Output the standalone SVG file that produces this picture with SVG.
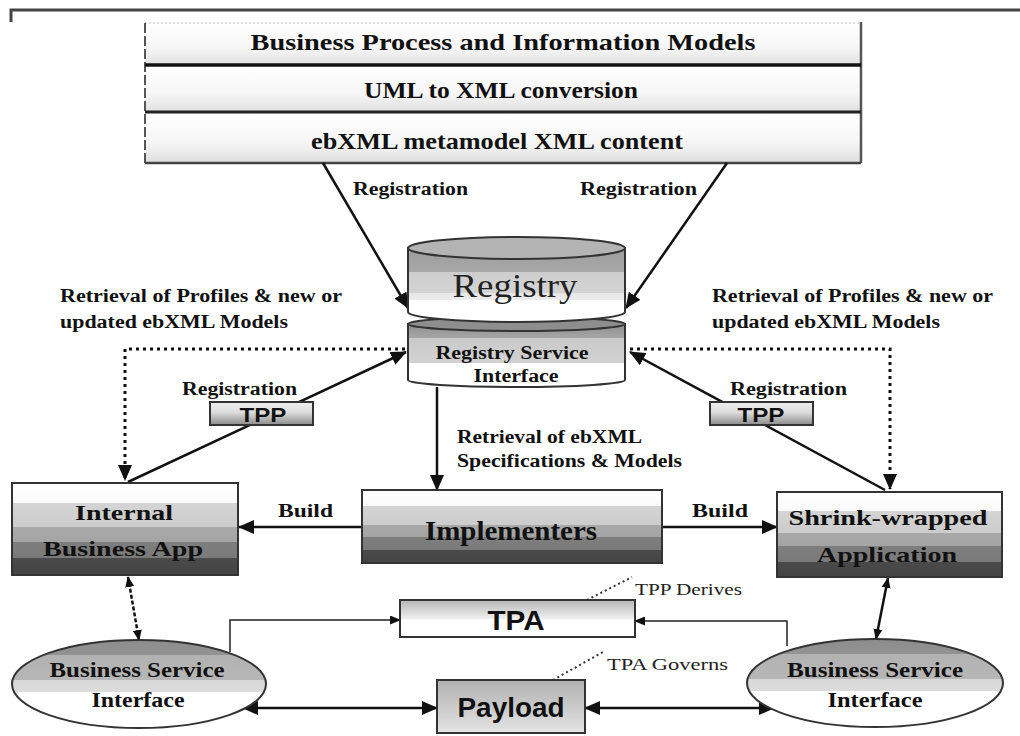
<svg xmlns="http://www.w3.org/2000/svg" width="1020" height="736" viewBox="0 0 1020 736">
<style>
.sb{font-family:"Liberation Serif","Times New Roman",serif;font-weight:bold;fill:#111}
.sr{font-family:"Liberation Serif","Times New Roman",serif;fill:#222}
.ss{font-family:"Liberation Sans",Arial,sans-serif;font-weight:bold;fill:#111}
.box{stroke:#333;stroke-width:2}
.ln{fill:none;stroke:#111;stroke-width:2.5}
.thin{fill:none;stroke:#222;stroke-width:1.5}
.dot{fill:none;stroke:#111;stroke-width:3;stroke-dasharray:3 4}
.dotthin{fill:none;stroke:#333;stroke-width:2;stroke-dasharray:2 3}
</style>
<defs>
<marker id="ah" markerUnits="userSpaceOnUse" markerWidth="16" markerHeight="14" refX="15" refY="7" orient="auto-start-reverse" viewBox="0 0 16 14"><path d="M0,0 L16,7 L0,14 Z" fill="#111"/></marker>
<marker id="as" markerUnits="userSpaceOnUse" markerWidth="11" markerHeight="9" refX="10" refY="4.5" orient="auto-start-reverse" viewBox="0 0 11 9"><path d="M0,0 L11,4.5 L0,9 Z" fill="#111"/></marker>
<linearGradient id="gTop" x1="0" y1="0" x2="0" y2="1"><stop offset="0" stop-color="#ffffff"/><stop offset="0.6" stop-color="#f6f6f6"/><stop offset="1" stop-color="#e0e0e0"/></linearGradient>
<linearGradient id="gApp" x1="0" y1="0" x2="0" y2="1">
<stop offset="0" stop-color="#ffffff"/><stop offset="0.22" stop-color="#fafafa"/>
<stop offset="0.22" stop-color="#d4d4d4"/><stop offset="0.48" stop-color="#cccccc"/>
<stop offset="0.48" stop-color="#a9a9a9"/><stop offset="0.64" stop-color="#a4a4a4"/>
<stop offset="0.64" stop-color="#7e7e7e"/><stop offset="0.82" stop-color="#7a7a7a"/>
<stop offset="0.82" stop-color="#4a4a4a"/><stop offset="1" stop-color="#444444"/></linearGradient>
<linearGradient id="gEll" x1="0" y1="0" x2="0" y2="1">
<stop offset="0" stop-color="#8c8c8c"/><stop offset="0.17" stop-color="#939393"/>
<stop offset="0.17" stop-color="#b2b2b2"/><stop offset="0.45" stop-color="#b6b6b6"/>
<stop offset="0.45" stop-color="#d8d8d8"/><stop offset="0.59" stop-color="#dcdcdc"/>
<stop offset="0.59" stop-color="#ffffff"/><stop offset="1" stop-color="#ffffff"/></linearGradient>
<linearGradient id="gReg" x1="0" y1="0" x2="0" y2="1">
<stop offset="0" stop-color="#9c9c9c"/><stop offset="0.32" stop-color="#a8a8a8"/>
<stop offset="0.32" stop-color="#cdcdcd"/><stop offset="0.61" stop-color="#d4d4d4"/>
<stop offset="0.61" stop-color="#e6e6e6"/><stop offset="0.7" stop-color="#ececec"/>
<stop offset="0.7" stop-color="#ffffff"/><stop offset="1" stop-color="#ffffff"/></linearGradient>
<linearGradient id="gRsi" x1="0" y1="0" x2="0" y2="1">
<stop offset="0" stop-color="#8e8e8e"/><stop offset="0.22" stop-color="#a6a6a6"/>
<stop offset="0.22" stop-color="#c9c9c9"/><stop offset="0.62" stop-color="#d2d2d2"/>
<stop offset="0.62" stop-color="#ffffff"/><stop offset="1" stop-color="#ffffff"/></linearGradient>
<linearGradient id="gTpa" x1="0" y1="0" x2="0" y2="1"><stop offset="0" stop-color="#b4b4b4"/><stop offset="0.5" stop-color="#efefef"/><stop offset="0.55" stop-color="#ffffff"/><stop offset="1" stop-color="#ffffff"/></linearGradient>
<linearGradient id="gPay" x1="0" y1="0" x2="0" y2="1"><stop offset="0" stop-color="#b0b0b0"/><stop offset="1" stop-color="#e4e4e4"/></linearGradient>
<linearGradient id="gTpp" x1="0" y1="0" x2="0" y2="1"><stop offset="0" stop-color="#eeeeee"/><stop offset="0.45" stop-color="#dddddd"/><stop offset="1" stop-color="#8a8a8a"/></linearGradient>
</defs>
<rect width="1020" height="736" fill="#ffffff"/>
<!-- frame line -->
<path d="M11,22 V10 H1020" fill="none" stroke="#444" stroke-width="3"/>

<g id="models">
<rect x="145" y="23" width="716" height="42" fill="url(#gTop)"/>
<rect x="145" y="66" width="716" height="46" fill="url(#gTop)"/>
<rect x="145" y="113" width="716" height="49" fill="url(#gTop)"/>
<line x1="145" y1="23" x2="861" y2="23" stroke="#bbb" stroke-width="1" stroke-dasharray="2 2"/>
<line x1="145" y1="23" x2="145" y2="163" stroke="#555" stroke-width="2" stroke-dasharray="10 3"/>
<line x1="861" y1="22" x2="861" y2="163" stroke="#555" stroke-width="2.5"/>
<line x1="145" y1="65" x2="861" y2="65" stroke="#111" stroke-width="3.5"/>
<line x1="145" y1="112" x2="861" y2="112" stroke="#222" stroke-width="3"/>
<line x1="145" y1="163" x2="861" y2="163" stroke="#444" stroke-width="2.5"/>
<text class="sb" x="503" y="50" font-size="24" text-anchor="middle" textLength="505" lengthAdjust="spacingAndGlyphs">Business Process and Information Models</text>
<text class="sb" x="501" y="98" font-size="24" text-anchor="middle" textLength="274" lengthAdjust="spacingAndGlyphs">UML to XML conversion</text>
<text class="sb" x="497" y="149" font-size="24" text-anchor="middle" textLength="372" lengthAdjust="spacingAndGlyphs">ebXML metamodel XML content</text>
</g>

<g id="connectors">
<line class="ln" x1="323" y1="163" x2="408" y2="308" marker-end="url(#ah)"/>
<line class="ln" x1="727" y1="163" x2="626" y2="308" marker-end="url(#ah)"/>
<path class="dot" d="M405,349 H125 V480" marker-end="url(#ah)"/>
<path class="dot" d="M630,349 H890 V489" marker-end="url(#ah)"/>
<line class="ln" x1="128" y1="482" x2="406" y2="352" marker-end="url(#ah)"/>
<line class="ln" x1="885" y1="490" x2="630" y2="352" marker-end="url(#ah)"/>
<line class="ln" x1="437" y1="387" x2="437" y2="490" marker-end="url(#ah)"/>
<line class="ln" x1="362" y1="527" x2="239" y2="527" marker-end="url(#ah)"/>
<line class="ln" x1="662" y1="527" x2="777" y2="527" marker-end="url(#ah)"/>
<line x1="128" y1="577" x2="139" y2="640" fill="none" stroke="#111" stroke-width="2.5" stroke-dasharray="4 2" marker-start="url(#as)" marker-end="url(#as)"/>
<line class="ln" x1="888" y1="578" x2="876" y2="639" marker-start="url(#as)" marker-end="url(#as)"/>
<path class="thin" d="M230,652 V620 H400" marker-end="url(#as)"/>
<path class="thin" d="M787,646 V621 H635" marker-end="url(#as)"/>
<line class="ln" x1="243" y1="708" x2="437" y2="708" marker-start="url(#ah)" marker-end="url(#ah)"/>
<line class="ln" x1="585" y1="708" x2="774" y2="708" marker-start="url(#ah)" marker-end="url(#ah)"/>
<line class="dotthin" x1="587" y1="600" x2="632" y2="577"/>
<line class="dotthin" x1="553" y1="680" x2="603" y2="652"/>
<text class="sb" x="353" y="195" font-size="18" textLength="115" lengthAdjust="spacingAndGlyphs">Registration</text>
<text class="sb" x="580" y="195" font-size="18" textLength="117" lengthAdjust="spacingAndGlyphs">Registration</text>
<text class="sb" x="60" y="302" font-size="18" textLength="282" lengthAdjust="spacingAndGlyphs">Retrieval of Profiles &amp; new or</text>
<text class="sb" x="60" y="328" font-size="18" textLength="228" lengthAdjust="spacingAndGlyphs">updated ebXML Models</text>
<text class="sb" x="712" y="302" font-size="18" textLength="281" lengthAdjust="spacingAndGlyphs">Retrieval of Profiles &amp; new or</text>
<text class="sb" x="712" y="328" font-size="18" textLength="228" lengthAdjust="spacingAndGlyphs">updated ebXML Models</text>
<text class="sb" x="182" y="395" font-size="18" textLength="115" lengthAdjust="spacingAndGlyphs">Registration</text>
<text class="sb" x="730" y="395" font-size="18" textLength="117" lengthAdjust="spacingAndGlyphs">Registration</text>
<text class="sb" x="457" y="443" font-size="18" textLength="185" lengthAdjust="spacingAndGlyphs">Retrieval of ebXML</text>
<text class="sb" x="457" y="467" font-size="18" textLength="225" lengthAdjust="spacingAndGlyphs">Specifications &amp; Models</text>
<text class="sb" x="278" y="517" font-size="19" textLength="55" lengthAdjust="spacingAndGlyphs">Build</text>
<text class="sb" x="692" y="517" font-size="19" textLength="56" lengthAdjust="spacingAndGlyphs">Build</text>
<text class="sr" x="635" y="595" font-size="16" textLength="107" lengthAdjust="spacingAndGlyphs">TPP Derives</text>
<text class="sr" x="607" y="670" font-size="16" textLength="121" lengthAdjust="spacingAndGlyphs">TPA Governs</text>
</g>

<g id="registry-service-interface">
<path d="M408,324 V380 A108.5,7 0 0 0 625,380 V324 Z" fill="url(#gRsi)" stroke="#333" stroke-width="2"/>
<ellipse cx="516.5" cy="324" rx="108.5" ry="7" fill="#8e8e8e" stroke="#333" stroke-width="2"/>
<text class="sb" x="512" y="359" font-size="18" text-anchor="middle" textLength="153" lengthAdjust="spacingAndGlyphs">Registry Service</text>
<text class="sb" x="516" y="382" font-size="18" text-anchor="middle" textLength="85" lengthAdjust="spacingAndGlyphs">Interface</text>
</g>

<g id="registry">
<path d="M408,248 V312 A108.5,10 0 0 0 625,312 V248 Z" fill="url(#gReg)" stroke="#333" stroke-width="2"/>
<ellipse cx="516.5" cy="248" rx="108.5" ry="11" fill="#b4b4b4" stroke="#333" stroke-width="2"/>
<text class="sr" x="515" y="297" font-size="34" text-anchor="middle" fill="#111" textLength="125" lengthAdjust="spacingAndGlyphs">Registry</text>
</g>

<g id="tpp-left">
<rect class="box" x="210" y="402" width="103" height="23" fill="url(#gTpp)"/>
<text class="ss" x="263" y="422" font-size="20" text-anchor="middle" textLength="47" lengthAdjust="spacingAndGlyphs">TPP</text>
</g>
<g id="tpp-right">
<rect class="box" x="710" y="402" width="103" height="23" fill="url(#gTpp)"/>
<text class="ss" x="761" y="422" font-size="20" text-anchor="middle" textLength="47" lengthAdjust="spacingAndGlyphs">TPP</text>
</g>

<g id="internal-business-app">
<rect class="box" x="12" y="483" width="226" height="92" fill="url(#gApp)"/>
<text class="sb" x="124" y="520" font-size="21" text-anchor="middle" textLength="98" lengthAdjust="spacingAndGlyphs">Internal</text>
<text class="sb" x="123" y="556" font-size="21" text-anchor="middle" textLength="160" lengthAdjust="spacingAndGlyphs">Business App</text>
</g>

<g id="implementers">
<rect class="box" x="362" y="490" width="300" height="73" fill="url(#gApp)"/>
<text class="sb" x="511" y="540" font-size="28" text-anchor="middle" textLength="172" lengthAdjust="spacingAndGlyphs">Implementers</text>
</g>

<g id="shrink-wrapped-application">
<rect class="box" x="777" y="492" width="225" height="85" fill="url(#gApp)"/>
<text class="sb" x="888" y="525" font-size="21" text-anchor="middle" textLength="199" lengthAdjust="spacingAndGlyphs">Shrink-wrapped</text>
<text class="sb" x="887" y="562" font-size="21" text-anchor="middle" textLength="140" lengthAdjust="spacingAndGlyphs">Application</text>
</g>

<g id="tpa">
<rect class="box" x="400" y="600" width="235" height="37" fill="url(#gTpa)"/>
<text class="ss" x="516" y="630" font-size="28" text-anchor="middle" textLength="57" lengthAdjust="spacingAndGlyphs">TPA</text>
</g>

<g id="payload">
<rect class="box" x="437" y="680" width="148" height="53" fill="url(#gPay)"/>
<text class="ss" x="511" y="717" font-size="27" text-anchor="middle" textLength="107" lengthAdjust="spacingAndGlyphs">Payload</text>
</g>

<g id="bsi-left">
<ellipse cx="139" cy="684" rx="127" ry="44" fill="url(#gEll)" stroke="#333" stroke-width="2"/>
<text class="sb" x="137" y="677" font-size="20" text-anchor="middle" textLength="175" lengthAdjust="spacingAndGlyphs">Business Service</text>
<text class="sb" x="138" y="707" font-size="20" text-anchor="middle" textLength="93" lengthAdjust="spacingAndGlyphs">Interface</text>
</g>

<g id="bsi-right">
<ellipse cx="875" cy="683" rx="128" ry="44" fill="url(#gEll)" stroke="#333" stroke-width="2"/>
<text class="sb" x="875" y="677" font-size="20" text-anchor="middle" textLength="176" lengthAdjust="spacingAndGlyphs">Business Service</text>
<text class="sb" x="875" y="707" font-size="20" text-anchor="middle" textLength="95" lengthAdjust="spacingAndGlyphs">Interface</text>
</g>
</svg>
